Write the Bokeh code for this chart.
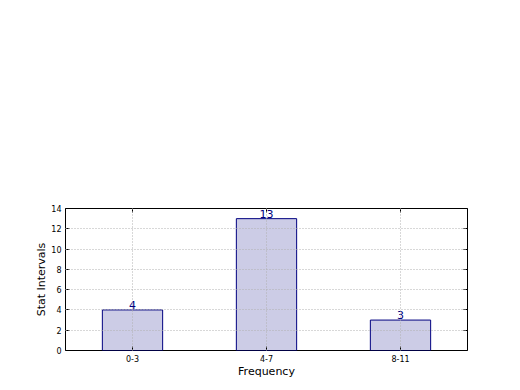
from bokeh.plotting import figure
from bokeh.models import (ColumnDataSource, FactorRange, Range1d, LinearAxis, CategoricalAxis,
                          FixedTicker, CustomJSTickFormatter)
from bokeh.core.properties import value
from bokeh.embed import file_html
from bokeh.resources import INLINE

categories = ["0-3", "4-7", "8-11"]
counts = [4, 13, 3]
y_ticks = [0, 2, 4, 6, 8, 10, 12, 14]

source = ColumnDataSource(dict(cat=categories, val=counts, lbl=[str(v) for v in counts]))

FONT = "DejaVu Sans"

p = figure(width=520, height=390, output_backend="svg", toolbar_location=None,
           x_range=FactorRange(factors=categories, range_padding=0),
           y_range=Range1d(0, 14),
           min_border_left=65, min_border_right=53, min_border_top=208, min_border_bottom=40)
p.background_fill_color = "white"
p.border_fill_color = "white"
p.outline_line_color = "black"
p.outline_line_width = 1

p.vbar(x="cat", top="val", width=0.45, source=source,
       fill_color="navy", fill_alpha=0.2, line_color="navy", line_width=1)

p.text(x="cat", y="val", text="lbl", source=source, text_align="center",
       text_baseline="alphabetic", text_color="navy", text_font=value(FONT),
       text_font_size="11px", y_offset=-5)

for ax in (p.xaxis[0], p.yaxis[0]):
    ax.major_tick_in = 4
    ax.major_tick_out = 0
    ax.minor_tick_line_color = None
    ax.axis_line_color = None
    ax.major_label_text_font = FONT
    ax.major_label_text_font_size = "8px"
    ax.major_label_text_color = "black"
    ax.axis_label_text_font = FONT
    ax.axis_label_text_font_size = "11px"
    ax.axis_label_text_font_style = "normal"
    ax.axis_label_text_color = "black"
    ax.major_label_standoff = 4

p.yaxis[0].ticker = FixedTicker(ticks=y_ticks)
p.yaxis[0].axis_label = "Stat Intervals"
p.yaxis[0].axis_label_standoff = 0
p.xaxis[0].axis_label = "Frequency"
p.xaxis[0].axis_label_standoff = 0

right = LinearAxis(ticker=FixedTicker(ticks=y_ticks),
                   major_label_overrides={t: "" for t in y_ticks},
                   major_tick_in=4, major_tick_out=0, minor_tick_line_color=None,
                   axis_line_color=None, major_label_standoff=0)
p.add_layout(right, "right")

top = CategoricalAxis(formatter=CustomJSTickFormatter(code="return ''"),
                      major_tick_in=4, major_tick_out=0,
                      axis_line_color=None, major_label_standoff=0)
p.add_layout(top, "above")

for g in (p.xgrid[0], p.ygrid[0]):
    g.grid_line_color = "#b0b0b0"
    g.grid_line_dash = "1 2"
    g.grid_line_width = 1
    g.level = "annotation"
p.ygrid[0].ticker = FixedTicker(ticks=y_ticks)

open("out.html", "w").write(file_html(p, INLINE))
